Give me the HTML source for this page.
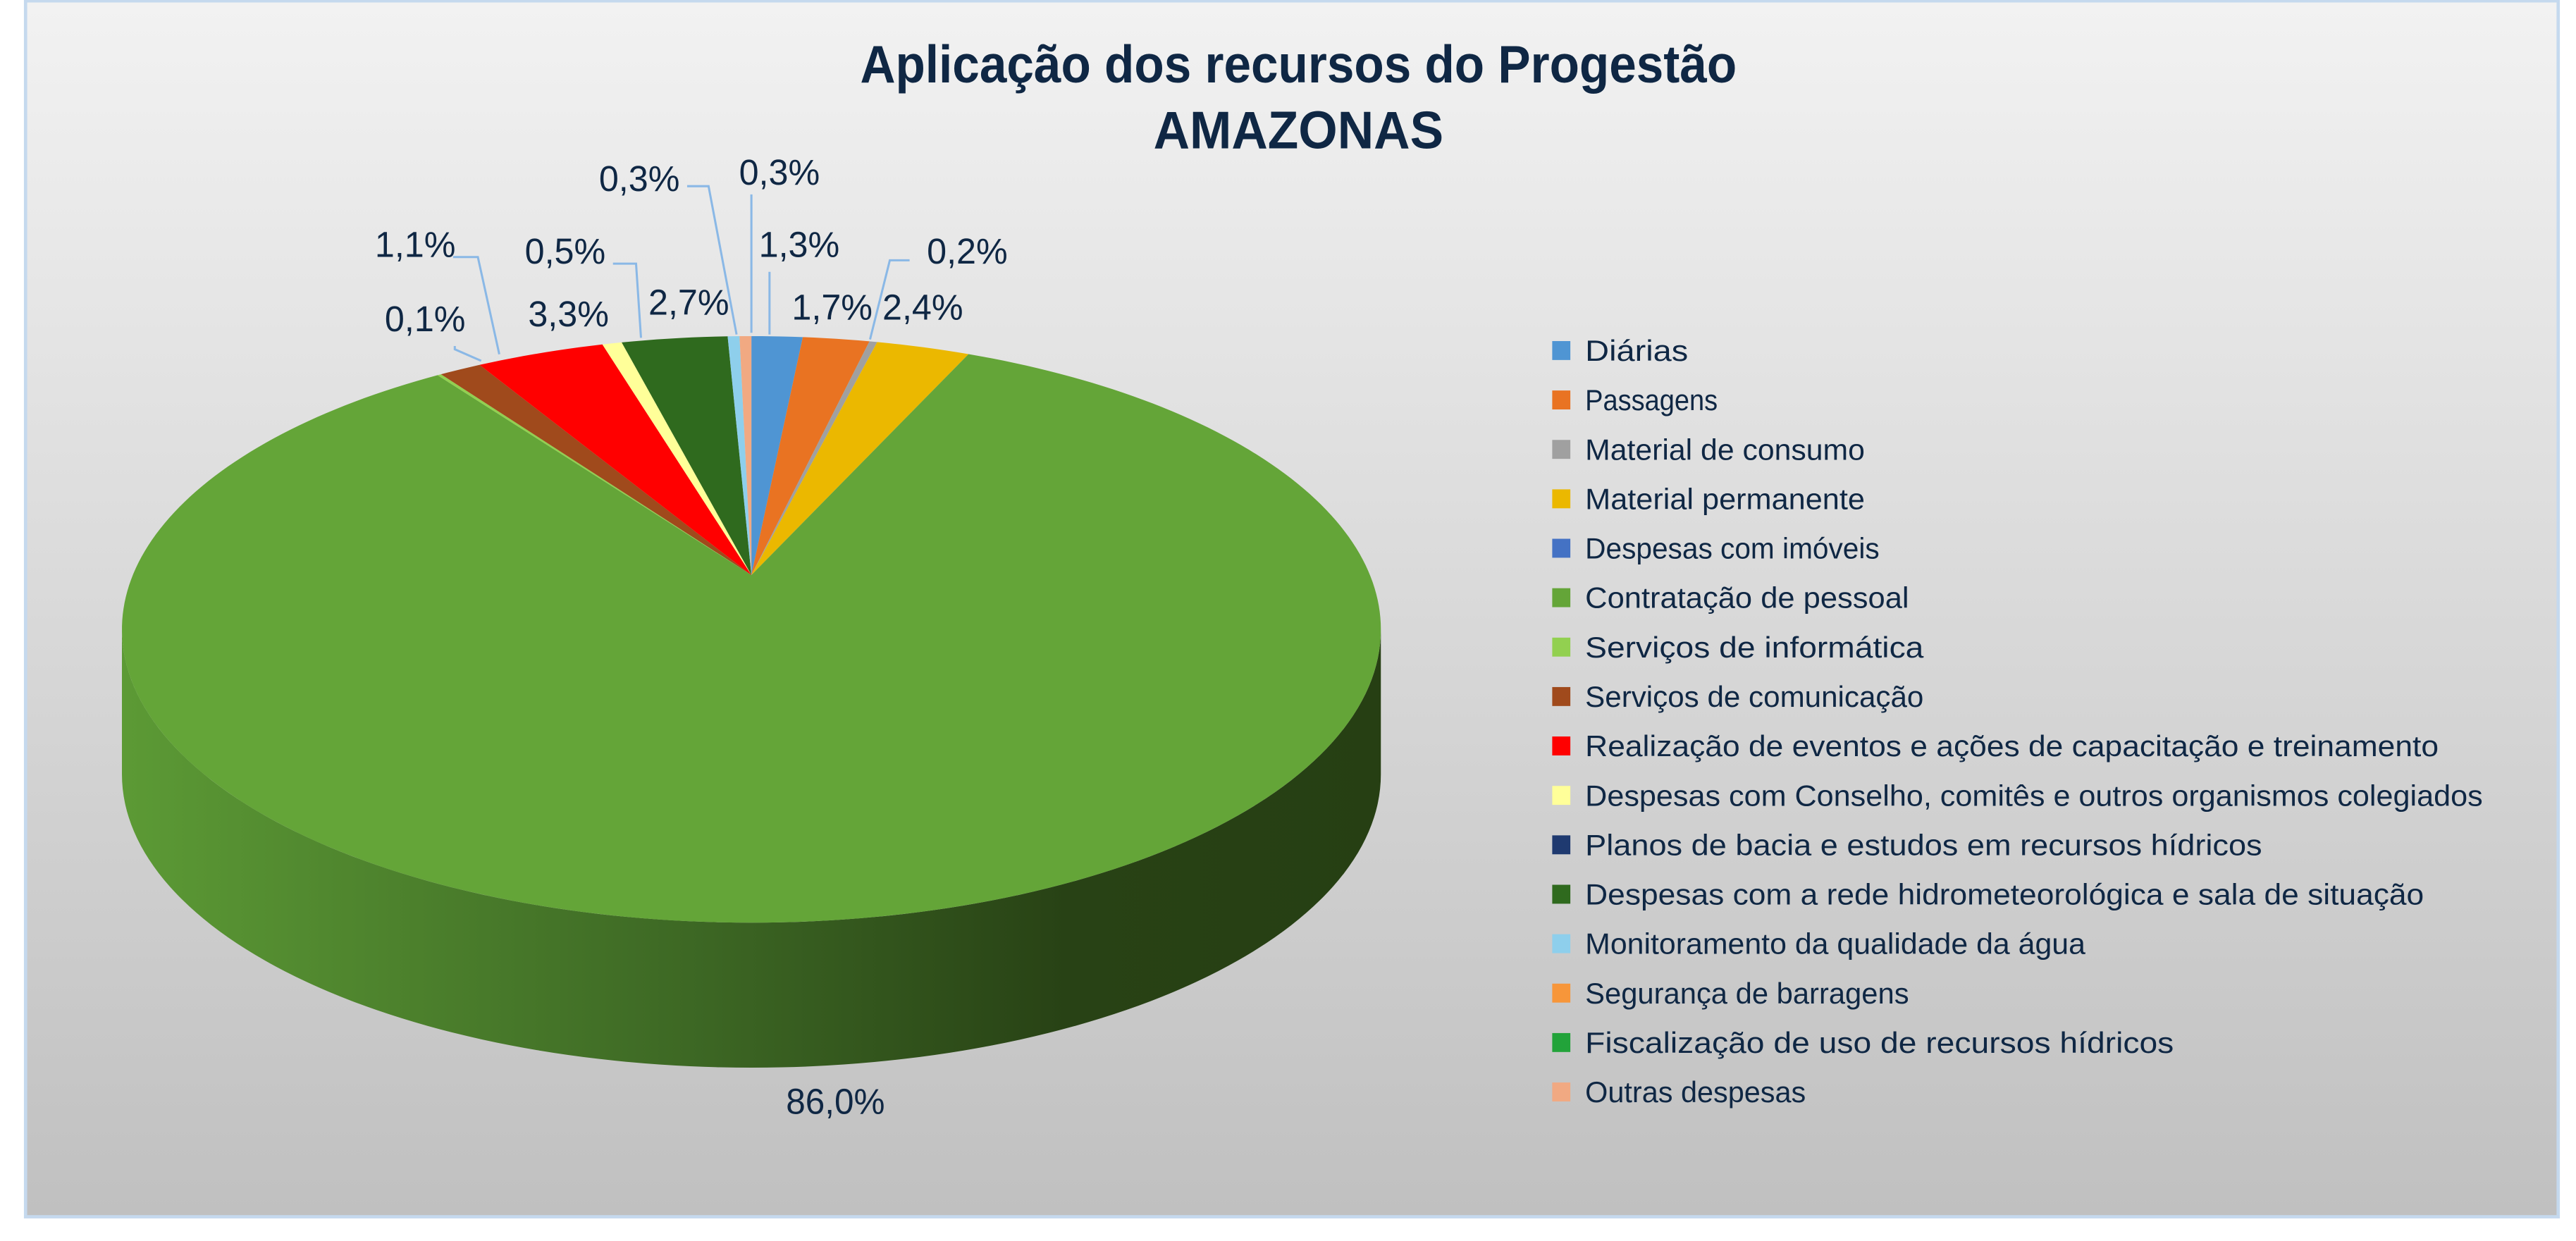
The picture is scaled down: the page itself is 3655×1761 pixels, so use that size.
<!DOCTYPE html>
<html><head><meta charset="utf-8"><style>
html,body{margin:0;padding:0;background:#fff;}
svg{display:block;}
text{font-family:"Liberation Sans",sans-serif;fill:#0f2744;}
</style></head><body>
<svg id="chart" width="3655" height="1761" viewBox="0 0 1563.3 753.2" xmlns="http://www.w3.org/2000/svg">
<defs>
<linearGradient id="bg" x1="0" y1="0" x2="0" y2="1"><stop offset="0" stop-color="#f2f2f2"/><stop offset="1" stop-color="#c0c0c0"/></linearGradient>
<linearGradient id="side" x1="74" y1="0" x2="838" y2="0" gradientUnits="userSpaceOnUse">
<stop offset="0" stop-color="#5c9a35"/><stop offset="0.45" stop-color="#3d6824"/><stop offset="0.75" stop-color="#284215"/><stop offset="1" stop-color="#263f13"/></linearGradient>
</defs>
<rect x="15.5" y="0.5" width="1537" height="738" fill="url(#bg)" stroke="#c5d9ee" stroke-width="2"/>
<text x="788" y="50" text-anchor="middle" font-size="32" font-weight="bold" textLength="532" lengthAdjust="spacingAndGlyphs">Aplicação dos recursos do Progestão</text>
<text x="788" y="90" text-anchor="middle" font-size="32" font-weight="bold" textLength="176" lengthAdjust="spacingAndGlyphs">AMAZONAS</text>
<g id="pie"></g>
<g id="labels"></g>
<g id="legend"></g>
</svg>
<script>
const categories = ["Diárias","Passagens","Material de consumo","Material permanente","Despesas com imóveis","Contratação de pessoal","Serviços de informática","Serviços de comunicação","Realização de eventos e ações de capacitação e treinamento","Despesas com Conselho, comitês e outros organismos colegiados","Planos de bacia e estudos em recursos hídricos","Despesas com a rede hidrometeorológica e sala de situação","Monitoramento da qualidade da água","Segurança de barragens","Fiscalização de uso de recursos hídricos","Outras despesas"];
const values = [1.3,1.7,0.2,2.4,0,86.0,0.1,1.1,3.3,0.5,0,2.7,0.3,0,0,0.3];
const valueLabels = ["1,3%","1,7%","0,2%","2,4%","","86,0%","0,1%","1,1%","3,3%","0,5%","","2,7%","0,3%","","","0,3%"];
const colors = ["#4f95d3","#e97322","#a0a0a0","#ebb800","#4472c4","#64a538","#92d050","#a04a1c","#ff0000","#ffff99","#1f3a70","#2f6a1e","#8ecfec","#f7963a","#22a33a","#f1a982"];
// label anchor positions (centre) and leader line polylines for labels outside
const labelPos = [[485,148],[505,186],[587,152],[560,186],null,[507,668],[258,193],[252,148],[345,190],[343,152],null,[418,183],[388,108],null,null,[473,104]];
const leaders = {0:[[467,165],[467,203]],2:[[552,158],[540,158],[528,206]],6:[[276,210],[276,212],[292,219]],7:[[275,156],[290,156],[303,215]],9:[[372,160],[386,160],[389,205]],12:[[417,113],[430,113],[447,203]],15:[[456,118],[456,202]]};

const NS="http://www.w3.org/2000/svg";
const cx=456, cy=382, rx=382, ry=178, apexY=349, depth=88;
function rim(a){return [cx+rx*Math.sin(a), cy-ry*Math.cos(a)];}
const pie=document.getElementById('pie');
// side (front half)
const side=document.createElementNS(NS,'path');
side.setAttribute('d',`M${cx-rx},${cy} A${rx},${ry} 0 0 0 ${cx+rx},${cy} L${cx+rx},${cy+depth} A${rx},${ry} 0 0 1 ${cx-rx},${cy+depth} Z`);
side.setAttribute('fill','url(#side)');


pie.appendChild(side);
const total=values.reduce((a,b)=>a+b,0);
let acc=0;
values.forEach((v,i)=>{
  if(v<=0)return;
  const a0=acc/total*2*Math.PI, a1=(acc+v)/total*2*Math.PI; acc+=v;
  const n=Math.max(2,Math.ceil((a1-a0)/0.02));
  let d=`M${cx},${apexY}`;
  for(let k=0;k<=n;k++){const p=rim(a0+(a1-a0)*k/n);d+=` L${p[0].toFixed(2)},${p[1].toFixed(2)}`;}
  d+=' Z';
  const p=document.createElementNS(NS,'path');
  p.setAttribute('d',d);p.setAttribute('fill',colors[i]);
  
  
  pie.appendChild(p);
});
const lg=document.getElementById('labels');
valueLabels.forEach((t,i)=>{
  if(!t||!labelPos[i])return;
  if(leaders[i]){
    const pl=document.createElementNS(NS,'polyline');
    pl.setAttribute('points',leaders[i].map(q=>q.join(',')).join(' '));
    pl.setAttribute('fill','none');pl.setAttribute('stroke','#8ab8e6');pl.setAttribute('stroke-width','1.3');
    
    
    lg.appendChild(pl);
  }
  const tx=document.createElementNS(NS,'text');
  tx.setAttribute('x',labelPos[i][0]);tx.setAttribute('y',labelPos[i][1]+8);
  tx.setAttribute('text-anchor','middle');tx.setAttribute('font-size','22');
  tx.setAttribute('textLength',t.length>4?60:49);tx.setAttribute('lengthAdjust','spacingAndGlyphs');
  tx.textContent=t;
  
  
  lg.appendChild(tx);
});
const leg=document.getElementById('legend');
categories.forEach((c,i)=>{
  const y=213+i*30;
  const r=document.createElementNS(NS,'rect');
  r.setAttribute('x',942);r.setAttribute('y',y-6);r.setAttribute('width',11);r.setAttribute('height',11.5);r.setAttribute('fill',colors[i]);
  
  
  leg.appendChild(r);
  const t=document.createElementNS(NS,'text');
  t.setAttribute('x',962);t.setAttribute('y',y+6);t.setAttribute('font-size','18');
  t.setAttribute('textLength',(c.length*8.93).toFixed(1));t.setAttribute('lengthAdjust','spacingAndGlyphs');
  t.textContent=c;
  
  
  leg.appendChild(t);
});
</script>
</body></html>
